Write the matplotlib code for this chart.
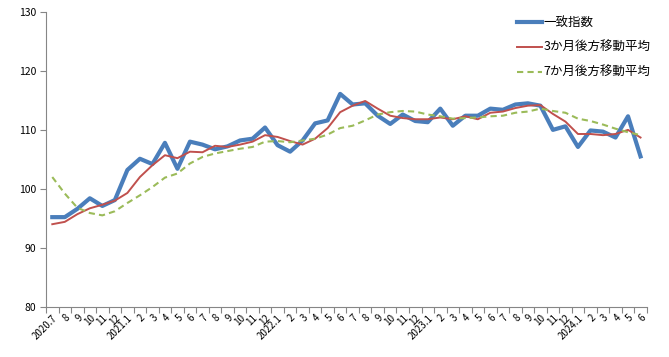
import numpy as np
import matplotlib
matplotlib.use('Agg')
import matplotlib.pyplot as plt

plt.rcParams['font.family'] = ['Noto Sans CJK JP', 'DejaVu Sans']

# months 2020.7 - 2024.6
months = ['2020.7', '8', '9', '10', '11', '12',
          '2021.1', '2', '3', '4', '5', '6', '7', '8', '9', '10', '11', '12',
          '2022.1', '2', '3', '4', '5', '6', '7', '8', '9', '10', '11', '12',
          '2023.1', '2', '3', '4', '5', '6', '7', '8', '9', '10', '11', '12',
          '2024.1', '2', '3', '4', '5', '6']

coincident = [95.3, 95.3, 96.7, 98.5, 97.2, 98.2,
              103.3, 105.2, 104.3, 107.9, 103.5, 108.1, 107.6, 106.8, 107.3, 108.3, 108.6, 110.5,
              107.5, 106.4, 108.3, 111.2, 111.7, 116.2, 114.4, 114.6, 112.5, 111.1, 112.7, 111.6,
              111.4, 113.7, 110.8, 112.5, 112.5, 113.7, 113.5, 114.4, 114.6, 114.2, 110.1, 110.7,
              107.2, 110.0, 109.8, 108.8, 112.4, 105.6]

ma3 = [94.1, 94.5, 95.8, 96.8, 97.4, 98.1,
       99.4, 102.1, 104.1, 105.8, 105.3, 106.4, 106.3, 107.4, 107.2, 107.6, 108.1, 109.2,
       108.9, 108.2, 107.6, 108.6, 110.4, 113.1, 114.2, 115.0, 113.7, 112.5, 112.1, 111.9,
       111.9, 112.2, 111.9, 112.4, 111.9, 113.0, 113.2, 113.8, 114.2, 114.3, 112.8, 111.5,
       109.4, 109.4, 109.2, 109.4, 110.1, 108.8]

ma7 = [102.1, 99.3, 96.9, 96.0, 95.6, 96.3,
       97.7, 99.0, 100.4, 102.0, 102.7, 104.4, 105.5, 106.1, 106.5, 106.9, 107.2, 108.1,
       108.2, 108.0, 108.3, 108.6, 109.3, 110.4, 110.8, 111.7, 112.7, 113.1, 113.3, 113.2,
       112.7, 112.4, 112.0, 112.1, 112.2, 112.4, 112.5, 113.0, 113.2, 113.7, 113.3, 113.0,
       112.0, 111.6, 111.0, 110.3, 109.7, 109.2]

x = np.arange(len(months))

fig = plt.figure(figsize=(6.69, 3.57), dpi=100)
ax = fig.add_axes([0.0688, 0.139, 0.898, 0.826])

ax.plot(x, coincident, color='#4A7EBB', linewidth=3.0, label='一致指数', zorder=3)
ax.plot(x, ma3, color='#C0504D', linewidth=1.4, label='3か月後方移動平均', zorder=4)
ax.plot(x, ma7, color='#9BBB59', linewidth=1.5, linestyle=(0, (3, 2)), label='7か月後方移動平均', zorder=5)

ax.set_xlim(-0.5, len(months) - 0.5)
ax.set_ylim(80, 130)
ax.set_yticks(np.arange(80, 131, 10))

# tick marks on category borders, labels in the middle
ax.set_xticks(np.arange(-0.5, len(months), 1))
ax.set_xticklabels([])
ax.set_xticks(x, minor=True)
ax.set_xticklabels(months, minor=True, rotation=45, ha='right', va='top',
                   rotation_mode='anchor', fontsize=7)
ax.tick_params(axis='x', which='minor', length=0, pad=4)
ax.tick_params(axis='x', which='major', length=4, color='#868686')
ax.tick_params(axis='y', length=4, color='#868686', labelsize=7.5, pad=3)

for side in ['top', 'right']:
    ax.spines[side].set_visible(False)
for side in ['left', 'bottom']:
    ax.spines[side].set_color('#868686')

ax.legend(loc='upper left', bbox_to_anchor=(0.765, 1.025), frameon=False, fontsize=9,
          handlelength=2.0, handletextpad=0.15, labelspacing=0.95)

plt.savefig('out.png', dpi=100)
